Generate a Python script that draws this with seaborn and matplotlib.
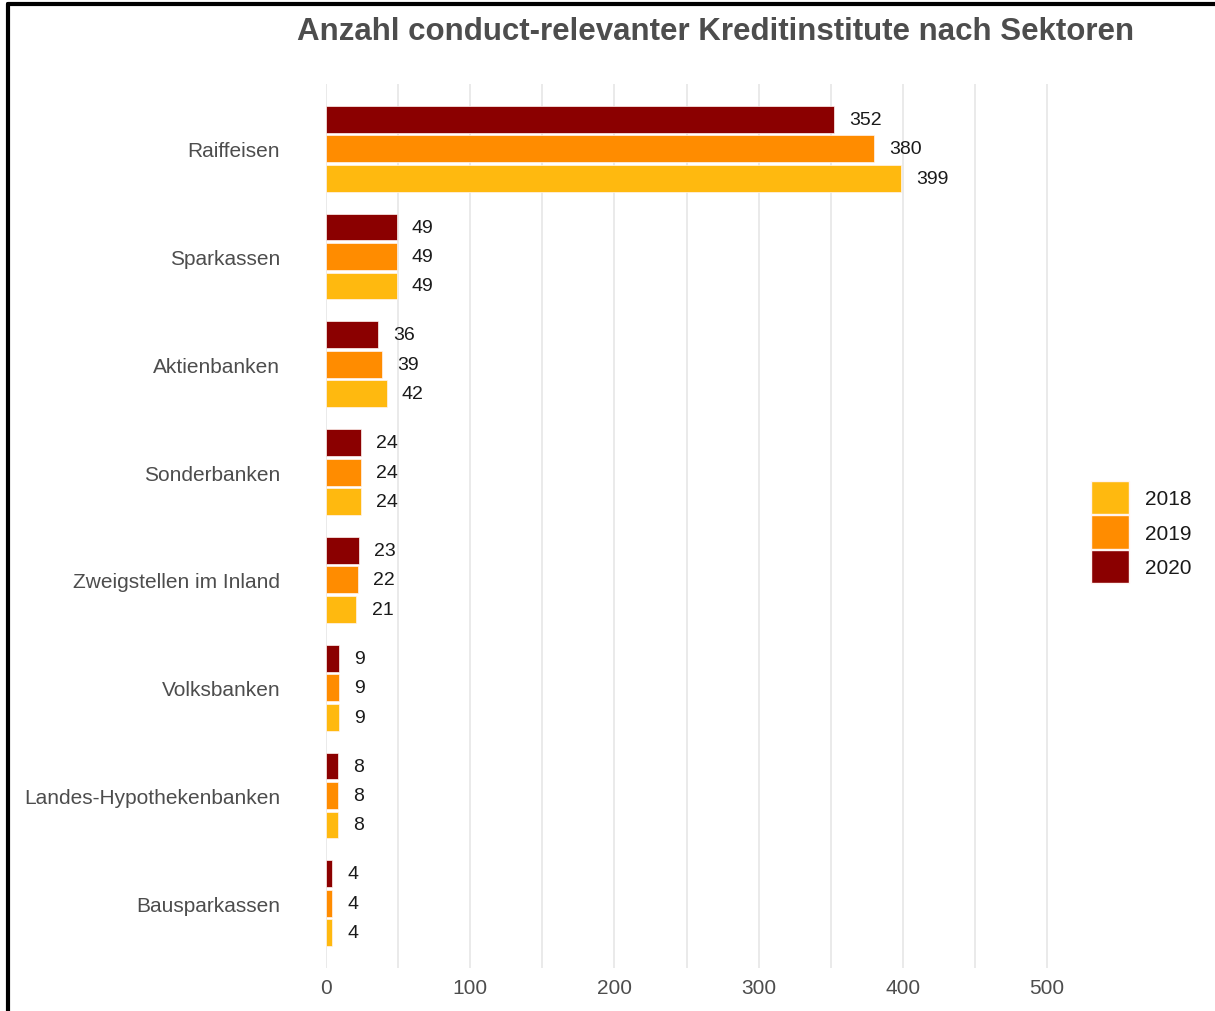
import matplotlib
matplotlib.use("Agg")
import matplotlib.pyplot as plt
import seaborn as sns
import pandas as pd
from matplotlib.patches import Patch
from matplotlib.lines import Line2D

sektoren = ["Raiffeisen", "Sparkassen", "Aktienbanken", "Sonderbanken",
            "Zweigstellen im Inland", "Volksbanken", "Landes-Hypothekenbanken", "Bausparkassen"]
jahre = ["2020", "2019", "2018"]
werte_2020 = [352, 49, 36, 24, 23, 9, 8, 4]
werte_2019 = [380, 49, 39, 24, 22, 9, 8, 4]
werte_2018 = [399, 49, 42, 24, 21, 9, 8, 4]
farben = {"2018": "#FFB90F", "2019": "#FF8C00", "2020": "#8B0000"}
x_ticks = [0, 100, 200, 300, 400, 500]

rows = []
for jahr, werte in zip(jahre, [werte_2020, werte_2019, werte_2018]):
    for s, v in zip(sektoren, werte):
        rows.append({"Sektor": s, "Jahr": jahr, "Anzahl": v})
df = pd.DataFrame(rows)

sns.set_theme(style="white")
plt.rcParams['font.family'] = ['Liberation Sans', 'DejaVu Sans']

W, H = 1215, 1012
fig = plt.figure(figsize=(W / 100, H / 100), dpi=100)
ax_left, ax_right, ax_top, ax_bot = 326, 1060, 85, 969
ax = fig.add_axes([ax_left / W, 1 - ax_bot / H, (ax_right - ax_left) / W, (ax_bot - ax_top) / H])

sns.barplot(data=df, y="Sektor", x="Anzahl", hue="Jahr", order=sektoren,
            hue_order=jahre, palette=farben, orient="h", width=0.82, gap=0.09,
            saturation=1, edgecolor="#fff4f0", linewidth=0.5, ax=ax, legend=False)

for cont in ax.containers:
    ax.bar_label(cont, labels=[f"{int(v)}" for v in cont.datavalues],
                 padding=11, fontsize=14, color="#1a1a1a")

px_per_unit = (1047 - 326) / 500
ax.set_xlim(0, (ax_right - ax_left) / px_per_unit)
ax.set_ylim(7.6, -0.6)
ax.set_xticks(x_ticks)
ax.set_xticks([50, 150, 250, 350, 450], minor=True)
ax.grid(axis="x", which="both", color="#E6E6E6", linewidth=1.2)
ax.set_axisbelow(True)
for sp in ax.spines.values():
    sp.set_visible(False)
ax.tick_params(axis="x", which="both", length=0, pad=7, labelsize=15, labelcolor="#4d4d4d")
ax.tick_params(axis="y", length=0, pad=33, labelsize=15, labelcolor="#4d4d4d")
ax.set_xlabel("")
ax.set_ylabel("")

fig.text(716 / W, 1 - 32 / H, "Anzahl conduct-relevanter Kreditinstitute nach Sektoren",
         ha="center", va="center", fontsize=22.5, fontweight="bold", color="#4d4d4d")

handles = [Patch(facecolor=farben[j], edgecolor="#fff4f0", label=j) for j in ["2018", "2019", "2020"]]
fig.legend(handles=handles, loc="center left", bbox_to_anchor=(1091 / W, 1 - 533 / H),
           frameon=False, fontsize=15, handlelength=1.83, handleheight=2.07,
           labelspacing=0.08, handletextpad=0.77, borderpad=0, borderaxespad=0,
           labelcolor="#1a1a1a")

fig.add_artist(Line2D([8 / W, 8 / W], [0, 1 - 5 / H], transform=fig.transFigure,
                      color="black", linewidth=3))
fig.add_artist(Line2D([8 / W, 1], [1 - 5 / H, 1 - 5 / H], transform=fig.transFigure,
                      color="black", linewidth=3))

fig.savefig("out.png", dpi=100, facecolor="white")
